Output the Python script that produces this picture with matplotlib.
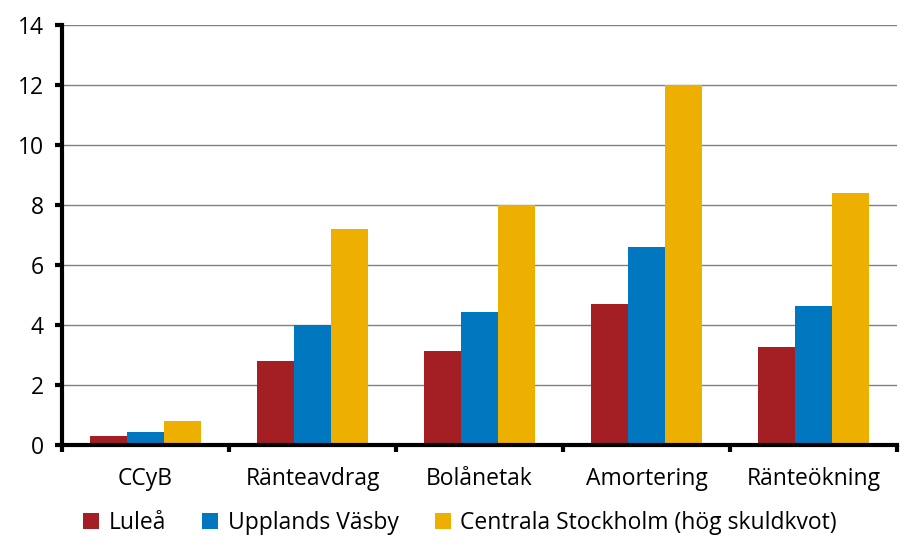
import numpy as np
import matplotlib.pyplot as plt

categories = ['CCyB', 'Ränteavdrag', 'Bolånetak', 'Amortering', 'Ränteökning']
lulea = [0.3, 2.8, 3.15, 4.7, 3.27]
upplands_vasby = [0.45, 4.0, 4.45, 6.6, 4.65]
centrala_sthlm = [0.8, 7.2, 8.0, 12.0, 8.4]
series_names = ['Luleå', 'Upplands Väsby', 'Centrala Stockholm (hög skuldkvot)']
colors = ['#A31F24', '#0077BE', '#EEB000']

plt.rcParams['font.family'] = ['Open Sans', 'DejaVu Sans']

fig = plt.figure(figsize=(9.2, 5.58), dpi=100)
ax = fig.add_axes([62/920, 1 - 445/558, (897 - 62)/920, (445 - 25)/558])

x = np.arange(len(categories))
w = 0.222
for i, (vals, name) in enumerate(zip([lulea, upplands_vasby, centrala_sthlm], series_names)):
    ax.bar(x + (i - 1) * w, vals, width=w, color=colors[i], label=name, zorder=3)

ax.set_xlim(-0.5, len(categories) - 0.5)
ax.set_ylim(0, 14)
ax.set_yticks(np.arange(0, 15, 2))
ax.yaxis.grid(True, color='#808080', linewidth=1, zorder=0)

# category boundaries as ticks, labels in the middle
ax.set_xticks(np.arange(-0.5, len(categories), 1))
ax.set_xticklabels([])
ax.set_xticks(x, minor=True)
ax.set_xticklabels(categories, minor=True)
ax.tick_params(axis='x', which='major', direction='out', length=5, width=3)
ax.tick_params(axis='x', which='minor', length=0, pad=16, labelsize=16.5)
ax.tick_params(axis='y', direction='out', length=5, width=3, labelsize=16.5, pad=8)

for s in ['top', 'right']:
    ax.spines[s].set_visible(False)
for s in ['left', 'bottom']:
    ax.spines[s].set_linewidth(3)
    ax.spines[s].set_zorder(4)

fig.legend(loc='center', bbox_to_anchor=(0.5, 1 - 523/558), ncol=3, frameon=False,
           fontsize=16.5, handlelength=0.7, handleheight=0.7, handletextpad=0.4,
           columnspacing=1.6)

fig.savefig('out.png', dpi=100)
